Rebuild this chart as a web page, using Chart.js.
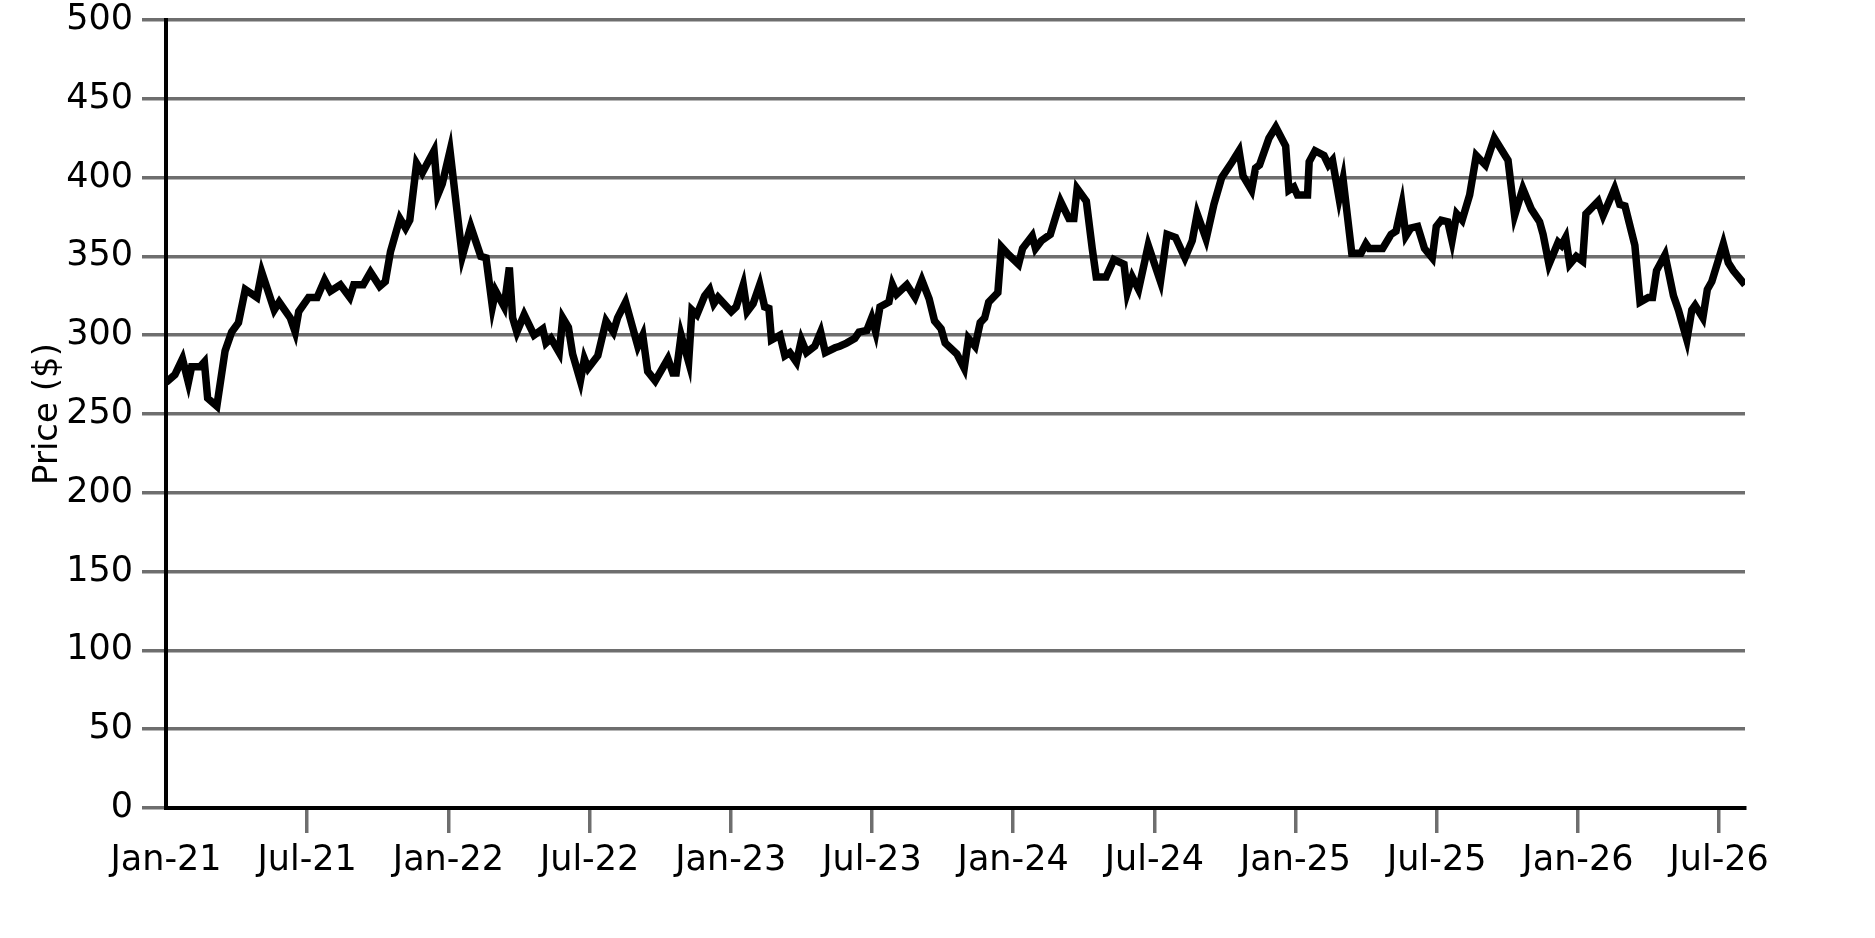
<!DOCTYPE html>
<html>
<head>
<meta charset="utf-8">
<script src="https://cdn.jsdelivr.net/npm/chart.js@4.4.0/dist/chart.umd.min.js"></script>
<style>
  html, body { margin: 0; padding: 0; background: #ffffff; }
  #wrap { width: 1875px; height: 938px; position: relative; }
</style>
</head>
<body>
<div id="wrap"><canvas id="priceChart"></canvas></div>
<script>
// Months since Jan 2021 for each point
const months = [
  0, 0.38, 0.7, 0.95, 1.09, 1.45, 1.63, 1.77, 2.16, 2.51, 2.79, 3.08, 3.37, 3.86, 4.07, 4.6, 4.81, 5.28, 5.49, 5.64,
  6.06, 6.42, 6.74, 6.99, 7.41, 7.81, 7.98, 8.38, 8.69, 9.08, 9.32, 9.54, 9.94, 10.18, 10.36, 10.65, 10.89, 11.39, 11.55, 11.74,
  12.07, 12.59, 12.95, 13.38, 13.6, 13.87, 14.01, 14.37, 14.59, 14.73, 14.91, 15.22, 15.64, 16.01, 16.15, 16.36, 16.71, 16.86, 17.1, 17.28,
  17.61, 17.78, 17.94, 18.35, 18.7, 19.01, 19.19, 19.53, 20.05, 20.26, 20.47, 20.79, 21.33, 21.54, 21.68, 21.89, 22.21, 22.35, 22.56, 22.89,
  23.1, 23.28, 23.46, 24.02, 24.23, 24.53, 24.7, 24.95, 25.23, 25.44, 25.62, 25.73, 26.09, 26.3, 26.51, 26.79, 27.0, 27.22, 27.57, 27.82,
  28.02, 28.43, 28.63, 28.92, 29.27, 29.45, 29.78, 29.99, 30.16, 30.34, 30.72, 30.87, 31.05, 31.48, 31.83, 32.12, 32.43, 32.66, 32.94, 33.11,
  33.61, 33.92, 34.1, 34.38, 34.6, 34.79, 34.96, 35.35, 35.5, 35.81, 36.23, 36.4, 36.81, 36.95, 37.2, 37.58, 38.01, 38.37, 38.58, 38.72,
  39.11, 39.36, 39.53, 39.95, 40.28, 40.71, 40.85, 41.06, 41.33, 41.74, 42.26, 42.54, 42.9, 43.3, 43.61, 43.82, 44.2, 44.53, 44.86, 45.31,
  45.6, 45.77, 46.13, 46.3, 46.47, 46.87, 47.16, 47.58, 47.72, 47.93, 48.08, 48.51, 48.58, 48.83, 49.21, 49.4, 49.57, 49.85, 50.02, 50.39,
  50.78, 50.99, 51.13, 51.7, 52.06, 52.27, 52.52, 52.69, 52.9, 53.19, 53.48, 53.81, 53.98, 54.19, 54.47, 54.65, 54.85, 55.08, 55.4, 55.68,
  56.07, 56.45, 57.03, 57.31, 57.66, 58.02, 58.37, 58.52, 58.77, 59.16, 59.3, 59.48, 59.65, 59.93, 60.2, 60.34, 60.86, 61.07, 61.56, 61.78,
  62.0, 62.42, 62.64, 62.99, 63.17, 63.34, 63.7, 64.06, 64.27, 64.63, 64.84, 64.98, 65.31, 65.5, 65.69, 66.18, 66.39, 66.6, 67.1
];

// Price in dollars at each point
const prices = [
  270, 275, 285, 270, 280, 280, 283, 260, 255, 290, 302, 308, 329, 324, 340, 316, 321, 311, 302, 315,
  324, 324, 335, 328, 332, 324, 332, 332, 340, 331, 334, 353, 374, 368, 373, 409, 403, 417, 389, 396,
  417, 350, 369, 350, 349, 318, 328, 318, 343, 311, 302, 313, 300, 304, 295, 298, 289, 311, 305, 288,
  271, 285, 279, 287, 309, 302, 311, 321, 293, 300, 277, 271, 285, 276, 276, 300, 283, 316, 313, 325,
  329, 320, 324, 315, 318, 332, 315, 320, 332, 318, 317, 297, 300, 287, 289, 283, 297, 289, 293, 302,
  289, 292, 293, 295, 298, 302, 303, 311, 302, 318, 321, 332, 326, 332, 324, 335, 323, 309, 304, 295,
  288, 279, 298, 293, 308, 311, 321, 327, 356, 351, 345, 355, 363, 355, 360, 364, 385, 374, 374, 393,
  385, 355, 337, 337, 348, 345, 327, 337, 329, 357, 334, 364, 362, 349, 360, 377, 361, 383, 400, 410,
  417, 401, 392, 406, 408, 425, 432, 420, 392, 394, 389, 389, 410, 417, 414, 408, 411, 387, 399, 352,
  352, 358, 355, 355, 364, 366, 383, 363, 368, 369, 355, 349, 369, 373, 372, 360, 377, 373, 389, 414,
  408, 425, 411, 376, 393, 380, 372, 364, 345, 359, 357, 362, 345, 350, 347, 377, 385, 376, 393, 383,
  382, 357, 321, 324, 324, 341, 351, 325, 316, 297, 316, 319, 311, 329, 334, 358, 346, 341, 332
];

// X tick positions (months since Jan 2021) and their labels
const tickMonths = [0, 6, 12, 18, 24, 30, 36, 42, 48, 54, 60, 66];
const tickLabels = ['Jan-21', 'Jul-21', 'Jan-22', 'Jul-22', 'Jan-23', 'Jul-23',
                    'Jan-24', 'Jul-24', 'Jan-25', 'Jul-25', 'Jan-26', 'Jul-26'];

const GRID = '#6e6e6e';
const FONT = 'DejaVu Sans';

const points = months.map((m, i) => ({ x: m, y: prices[i] }));

new Chart(document.getElementById('priceChart'), {
    type: 'line',
    data: {
        datasets: [{
            label: 'Price ($)',
            data: points,
            borderColor: '#000000',
            borderWidth: 7.5,
            pointRadius: 0,
            tension: 0,
            fill: false
        }]
    },
    options: {
        responsive: true,
        maintainAspectRatio: false,
        animation: false,
        layout: {
            padding: { left: 0, right: 130, top: 20, bottom: 0 }
        },
        plugins: {
            legend: { display: false },
            tooltip: { enabled: false }
        },
        scales: {
            x: {
                type: 'linear',
                min: 0,
                max: months[months.length - 1],
                afterBuildTicks: (scale) => {
                    scale.ticks = tickMonths.map(v => ({ value: v }));
                },
                afterFit: (scale) => {
                    // fixed band below the plot, as in the picture
                    scale.height = 130;
                    scale.paddingLeft = 0;
                    scale.paddingRight = 0;
                },
                ticks: {
                    autoSkip: false,
                    maxRotation: 0,
                    color: '#000000',
                    padding: 7,
                    font: { family: FONT, size: 35 },
                    callback: (value) => {
                        const i = tickMonths.indexOf(value);
                        return i >= 0 ? tickLabels[i] : '';
                    }
                },
                grid: {
                    drawOnChartArea: false,
                    drawTicks: true,
                    tickLength: 25,
                    lineWidth: 3.5,
                    color: (ctx) => ctx.index === 0 ? 'rgba(0,0,0,0)' : GRID
                },
                border: { display: true, color: '#000000', width: 4 }
            },
            y: {
                min: 0,
                max: 500,
                afterFit: (scale) => {
                    scale.width = 166;
                    scale.paddingTop = 0;
                    scale.paddingBottom = 0;
                },
                ticks: {
                    stepSize: 50,
                    color: '#000000',
                    padding: 9,
                    font: { family: FONT, size: 35 }
                },
                grid: {
                    color: GRID,
                    lineWidth: 3.5,
                    tickLength: 24
                },
                border: { display: true, color: '#000000', width: 4 },
                title: {
                    display: true,
                    text: 'Price ($)',
                    color: '#000000',
                    font: { family: FONT, size: 34 },
                    padding: { top: 28, bottom: 0 }
                }
            }
        }
    }
});
</script>
</body>
</html>
